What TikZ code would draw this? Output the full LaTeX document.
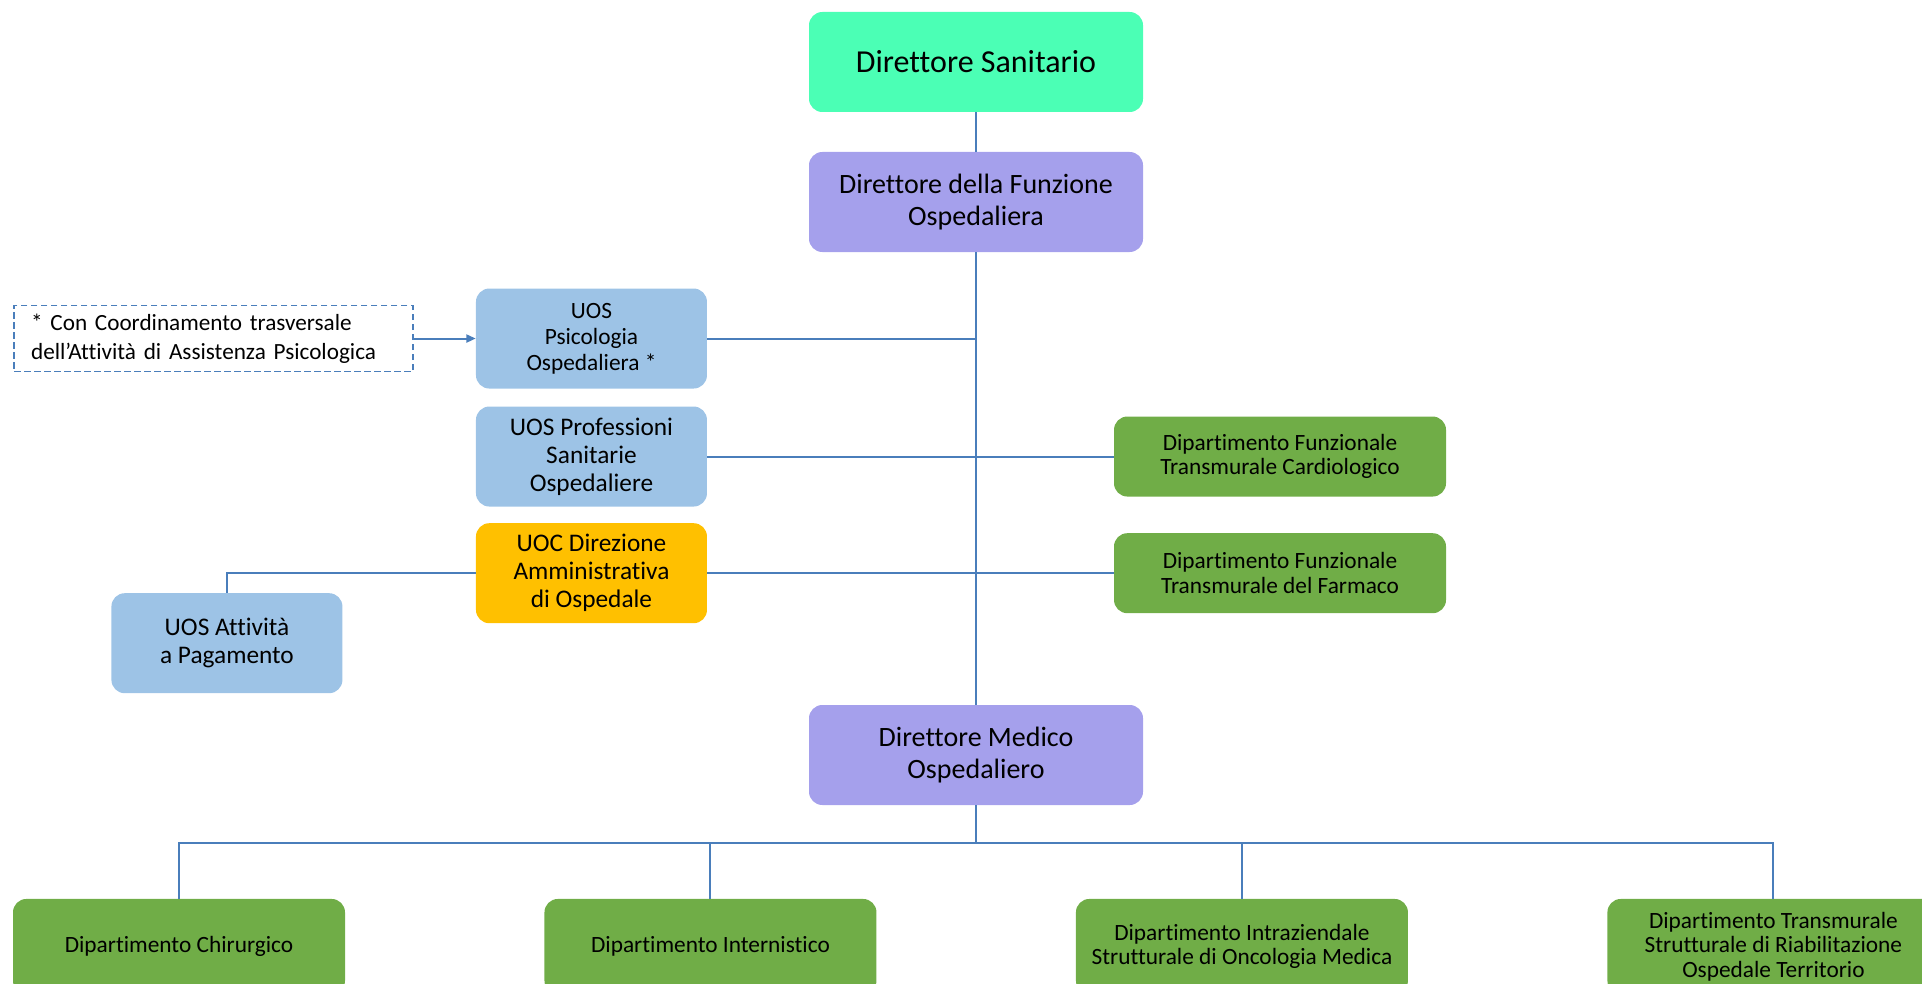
\documentclass[tikz,border=0pt]{standalone}
\usepackage{fontspec}
\setmainfont{Carlito}[RawFeature={-liga;-clig;-calt}]
\usetikzlibrary{positioning, arrows.meta}

\definecolor{mint}{RGB}{75,255,181}
\definecolor{lilac}{RGB}{165,160,236}
\definecolor{sky}{RGB}{157,195,230}
\definecolor{amber}{RGB}{255,192,0}
\definecolor{leaf}{RGB}{112,173,71}
\definecolor{wire}{RGB}{74,126,187}

\tikzset{
    unit/.style={rectangle, rounded corners=10pt, align=center, inner sep=2pt, text=black},
    dirbox/.style={unit, fill=lilac, minimum width=250.5pt, minimum height=75pt, font=\fontsize{21}{24.5}\selectfont},
    uosbox/.style={unit, fill=sky, minimum width=173.25pt, minimum height=75pt, font=\fontsize{19}{21}\selectfont},
    dipbox/.style={unit, fill=leaf, minimum width=249pt, minimum height=60pt, font=\fontsize{17.5}{18.5}\selectfont},
    notebox/.style={rectangle, draw=wire, line width=1.1pt, dash pattern=on 5pt off 2.5pt, minimum width=299pt, minimum height=49.5pt, text width=273.5pt, inner xsep=12.75pt, align=left, font=\fontsize{17.4}{21.75}\selectfont},
    link/.style={draw=wire, line width=1.5pt},
}

\begin{document}
\begin{tikzpicture}[on grid]
    \useasboundingbox (0,0) rectangle (1441.5pt,-738pt);

    \node[dirbox, fill=mint, font=\fontsize{24}{28}\selectfont] (DS) at (732pt,-46.5pt) {Direttore Sanitario};
    \node[dirbox] (DFO) [below=105pt of DS] {Direttore della Funzione\\Ospedaliera};
    \node[dirbox] (DMO) [below=414.75pt of DFO] {Direttore Medico\\Ospedaliero};

    \node[uosbox, font=\fontsize{17.5}{19.5}\selectfont] (PSI) [below left=102.4pt and 288.4pt of DFO] {UOS\\Psicologia\\Ospedaliera *};
    \node[notebox] (NOTE) [left=283.5pt of PSI] {* Con Coordinamento trasversale\\dell’Attività di Assistenza Psicologica};
    \node[uosbox] (PROF) [below=88.5pt of PSI] {UOS Professioni\\Sanitarie\\Ospedaliere};
    \node[uosbox, fill=amber] (UOC) [below=87.5pt of PROF] {UOC Direzione\\Amministrativa\\di Ospedale};
    \node[uosbox] (ATT) [below left=52.5pt and 273.4pt of UOC] {UOS Attività\\a Pagamento};

    \node[dipbox] (CARD) [right=516.4pt of PROF] {Dipartimento Funzionale\\Transmurale Cardiologico};
    \node[dipbox] (FARM) [right=516.4pt of UOC] {Dipartimento Funzionale\\Transmurale del Farmaco};

    \node[dipbox, minimum height=71.25pt] (CHIR) [below left=143.6pt and 597.75pt of DMO] {Dipartimento Chirurgico};
    \node[dipbox, minimum height=71.25pt] (INT) [right=398.6pt of CHIR] {Dipartimento Internistico};
    \node[dipbox, minimum height=71.25pt] (ONC) [right=398.6pt of INT] {Dipartimento Intraziendale\\Strutturale di Oncologia Medica};
    \node[dipbox, minimum height=71.25pt] (RIA) [right=398.6pt of ONC] {Dipartimento Transmurale\\Strutturale di Riabilitazione\\Ospedale Territorio};

    % trunk
    \draw[link] (DS) -- (DFO);
    \draw[link] (DFO) -- (DMO);

    % side units
    \draw[link] (PSI.east) -- (PSI.east -| DFO.south);
    \draw[link] (PROF) -- (CARD);
    \draw[link] (UOC) -- (FARM);
    \draw[link] (UOC.west) -| (ATT.north);
    \draw[link, -{Triangle[length=7pt, width=6pt]}] (NOTE) -- (PSI);

    % departments
    \draw[link] (DMO.south) -- ++(0,-28.5pt) coordinate (BUS);
    \foreach \d in {CHIR, INT, ONC, RIA}
        \draw[link] (BUS) -| (\d.north);
\end{tikzpicture}
\end{document}
